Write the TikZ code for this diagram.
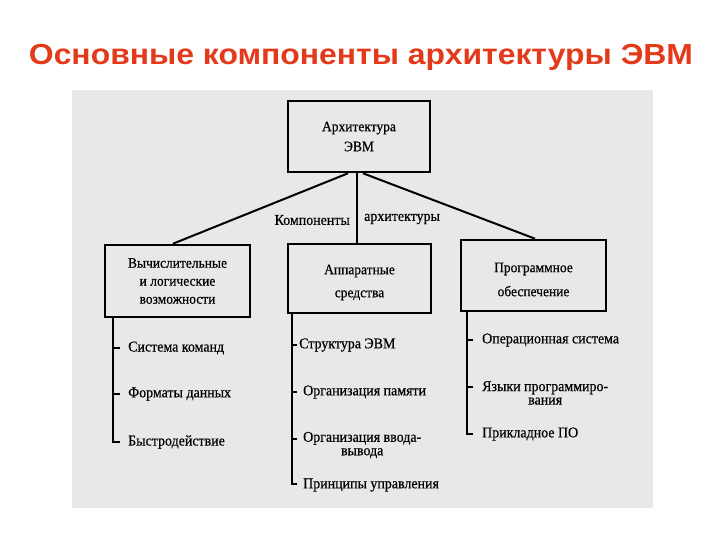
\documentclass[tikz,border=0pt]{standalone}
\usepackage{fontspec}
\setmainfont{Liberation Serif}
\newfontfamily\titlefont{Liberation Sans}[FakeStretch=1.1]
\newfontfamily\scanfont{Liberation Serif}[FakeStretch=0.93,FakeBold=0.5]
\usetikzlibrary{calc}
\definecolor{titlered}{RGB}{228,58,28}
\definecolor{panelgray}{RGB}{232,232,232}
\begin{document}
\begin{tikzpicture}[x=1pt,y=-1pt,
  box/.style={draw=black,line width=2.6pt,fill=panelgray,inner sep=0pt,
    align=center,font=\scanfont\fontsize{14.5}{18}\selectfont},
  boxtext/.style={inner sep=0pt,align=center,font=\scanfont\fontsize{14.5}{23}\selectfont},
  conn/.style={draw=black,line width=2pt},
  spine/.style={draw=black,line width=2pt},
  item/.style={anchor=west,inner xsep=8pt,inner ysep=0pt,align=center,
    font=\scanfont\fontsize{15}{12.5}\selectfont},
  lbl/.style={inner sep=0pt,font=\scanfont\fontsize{15}{17}\selectfont}]
\useasboundingbox (0,0) rectangle (720,540);
\fill[white] (0,0) rectangle (720,540);
\fill[panelgray] (72,90) rectangle (653,508);
\node[text=titlered,font=\titlefont\bfseries\fontsize{29}{34}\selectfont,anchor=base]
  (title) at (361,65) {Основные компоненты архитектуры ЭВМ};
% boxes
\node[box,minimum width=142,minimum height=71,font=\scanfont\fontsize{14.5}{20}\selectfont] (arch) at (359,136.5) {Архитектура\\ЭВМ};
\node[box,minimum width=145,minimum height=72] (calc) at (177.5,281) {Вычислительные\\и логические\\возможности};
\node[box,minimum width=143,minimum height=69] (hw) at (359.5,278.5) {};
\node[boxtext] (hwt) at ([yshift=-4]hw.center) {Аппаратные\\средства};
\node[box,minimum width=145,minimum height=71] (sw) at (533.5,275.5) {};
\node[boxtext,font=\scanfont\fontsize{14.5}{24}\selectfont] (swt) at ([yshift=-4]sw.center) {Программное\\обеспечение};
% connectors
\draw[conn] ([xshift=-11]arch.south) -- ([xshift=-4.5]calc.north);
\draw[conn] ([xshift=-2]arch.south) -- ([xshift=-2]arch.south |- hw.north);
\draw[conn] ([xshift=4]arch.south) -- ([xshift=1.5]sw.north);
\node[lbl,anchor=east] (lk) at (350,220) {Компоненты};
\node[lbl,anchor=west] (la) at (364,219) {архитектуры};
% left list
\node[item] (c1) at (120,348) {Система команд};
\node[item] (c2) at (120,394) {Форматы данных};
\node[item] (c3) at (120,442) {Быстродействие};
\coordinate (cs) at ([xshift=-64.5]calc.south);
\draw[spine] (cs) |- (c3.west);
\draw[spine] (cs |- c1.west) -- (c1.west);
\draw[spine] (cs |- c2.west) -- (c2.west);
% middle list
\node[item,inner xsep=2pt] (h1) at (297,345) {Структура ЭВМ};
\node[item,inner xsep=6pt] (h2) at (297,392) {Организация памяти};
\node[item,inner xsep=6pt,font=\scanfont\fontsize{15}{13.5}\selectfont] (h3) at (297,445) {Организация ввода-\\вывода};
\node[item,inner xsep=6pt] (h4) at (297,485) {Принципы управления};
\coordinate (hs) at ([xshift=-67.5]hw.south);
\draw[spine] (hs) |- ([yshift=1]h4.west);
\draw[spine] (hs |- h1.west) -- (h1.west);
\draw[spine] (hs |- h2.west) -- (h2.west);
\draw[spine] (hs |- 0,439) coordinate (h3t) -- (h3t -| h3.west);
% right list
\node[item,inner xsep=9pt] (s1) at (473,340) {Операционная система};
\node[item,inner xsep=9pt,font=\scanfont\fontsize{15}{13.5}\selectfont] (s2) at (473,393) {Языки программиро-\\вания};
\node[item,inner xsep=9pt] (s3) at (473,434) {Прикладное ПО};
\coordinate (ss) at ([xshift=-66.5]sw.south);
\draw[spine] (ss) |- (s3.west);
\draw[spine] (ss |- s1.west) -- (s1.west);
\draw[spine] (ss |- 0,387) coordinate (s2t) -- (s2t -| s2.west);
\end{tikzpicture}
\end{document}
